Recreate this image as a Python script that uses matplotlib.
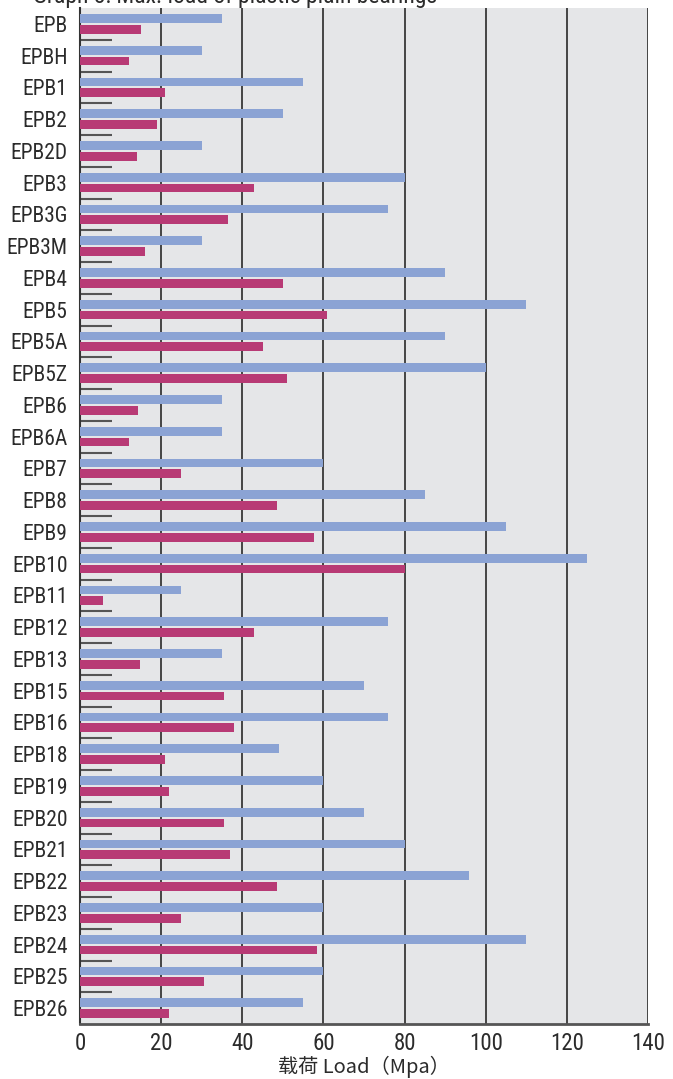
import matplotlib
matplotlib.use("Agg")
import matplotlib.pyplot as plt
import numpy as np
from matplotlib import font_manager

# pick a narrow family if one is installed
names = {f.name for f in font_manager.fontManager.ttflist}
narrow = [n for n in ["Liberation Sans Narrow", "DejaVu Sans Condensed", "Roboto Condensed", "Open Sans Condensed"] if n in names]
label_font = (narrow[:1] or ["Liberation Sans"]) + ["DejaVu Sans"]
cjk_font = ["Noto Sans CJK SC", "DejaVu Sans"]

categories = ["EPB", "EPBH", "EPB1", "EPB2", "EPB2D", "EPB3", "EPB3G", "EPB3M",
              "EPB4", "EPB5", "EPB5A", "EPB5Z", "EPB6", "EPB6A", "EPB7", "EPB8",
              "EPB9", "EPB10", "EPB11", "EPB12", "EPB13", "EPB15", "EPB16", "EPB18",
              "EPB19", "EPB20", "EPB21", "EPB22", "EPB23", "EPB24", "EPB25", "EPB26"]
static_load = [35, 30, 55, 50, 30, 80, 76, 30,
               90, 110, 90, 100, 35, 35, 60, 85,
               105, 125, 25, 76, 35, 70, 76, 49,
               60, 70, 80, 96, 60, 110, 60, 55]
dynamic_load = [15, 12, 21, 19, 14, 43, 36.5, 16,
                50, 61, 45, 51, 14.3, 12, 25, 48.5,
                57.7, 80, 5.7, 43, 14.8, 35.5, 38, 21,
                22, 35.5, 37, 48.5, 25, 58.4, 30.5, 22]
x_ticks = [0, 20, 40, 60, 80, 100, 120, 140]

fig = plt.figure(figsize=(6.73, 10.79), dpi=100)
ax = fig.add_axes([80 / 673, 1 - 1024 / 1079, 568 / 673, 1016 / 1079])
ax.set_facecolor("#e5e6e8")

y = np.arange(len(categories))
h = 0.27
ax.barh(y - 0.17, static_load, height=h, color="#8ba3d4", zorder=3)
ax.barh(y + 0.17, dynamic_load, height=h, color="#b83a75", zorder=3)

ax.set_xlim(0, 140)
ax.set_ylim(len(categories) - 0.5, -0.5)
ax.set_xticks(x_ticks)
ax.set_yticks(y)
ax.set_yticklabels(categories, family=label_font, fontsize=15.5, color="#2b2b2b")
for lab in ax.get_xticklabels():
    lab.set_family(label_font)
    lab.set_fontsize(16.5)
    lab.set_color("#2b2b2b")
ax.tick_params(axis="y", which="major", length=0, pad=9)
ax.tick_params(axis="x", which="major", length=0, pad=6)

# short separators between groups
ax.set_yticks(y[:-1] + 0.5, minor=True)
ax.tick_params(axis="y", which="minor", direction="in", length=23, width=1.5, color="#555555")

ax.grid(axis="x", color="#444444", linewidth=1.4, zorder=1)
ax.set_axisbelow(True)
for s in ["top", "right"]:
    ax.spines[s].set_visible(False)
ax.spines["left"].set_color("#333333")
ax.spines["left"].set_linewidth(1.5)
ax.spines["bottom"].set_color("#555555")
ax.spines["bottom"].set_linewidth(2)

ax.set_xlabel("载荷 Load（Mpa）", family=cjk_font, fontsize=14.5, color="#2b2b2b", labelpad=0)

# title sits mostly above the canvas, as in the source crop
fig.text(33 / 673, 1 - 3 / 1079, "Graph 8: Max. load of plastic plain bearings",
         family=label_font, fontsize=17, color="#2b2b2b", va="baseline", ha="left")

fig.savefig("out.png", dpi=100)
